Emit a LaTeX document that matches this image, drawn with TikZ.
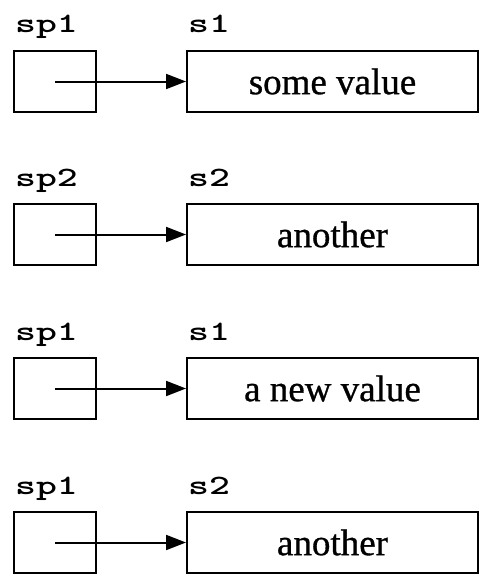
\documentclass[tikz,border=0pt]{standalone}
\usepackage{fontspec}
\setmainfont{Liberation Serif}
\newfontface\valfont{Liberation Serif}[FakeBold=0.8]
\usetikzlibrary{arrows.meta}
\begin{document}
\begin{tikzpicture}[x=1pt,y=-1pt,
  ptrbox/.style={draw, line width=2pt, minimum width=82pt, minimum height=61pt, inner sep=0pt, anchor=north west},
  valbox/.style={draw, line width=2pt, minimum width=291pt, minimum height=61pt, inner sep=0pt, anchor=north west, font=\valfont\fontsize{37}{40}\selectfont},
  varlabel/.style={anchor=base west, inner sep=0pt, font=\ttfamily\bfseries\fontsize{28}{30}\selectfont},
  ptr/.style={line width=2pt, -{Triangle[length=20pt,width=15pt]}}]
\useasboundingbox (0,0) rectangle (479,578);
\foreach \i/\y/\pl/\vl/\txt in {1/50/sp1/s1/some value, 2/203/sp2/s2/another, 3/357/sp1/s1/a new value, 4/511/sp1/s2/another}{
  \node[varlabel] (lp\i) at (15,\y-17) {\scalebox{1.42}[1]{\pl}};
  \node[varlabel] (lv\i) at (188,\y-17) {\scalebox{1.42}[1]{\vl}};
  \node[ptrbox] (a\i) at (13,\y) {};
  \node[valbox] (b\i) at (186,\y) {\txt};
  \draw[ptr] (a\i.center) -- (b\i.west);
}
\end{tikzpicture}
\end{document}
